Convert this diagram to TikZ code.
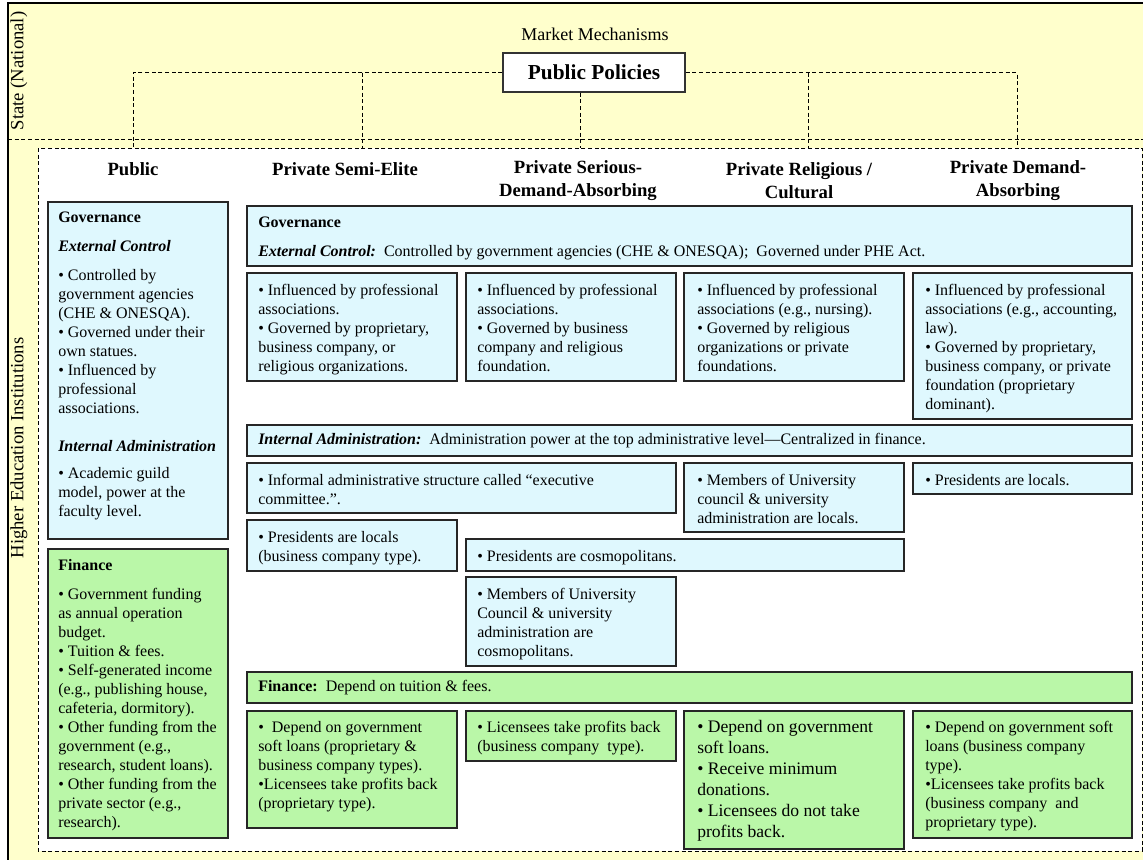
\documentclass[tikz,border=0pt]{standalone}
\usepackage{fontspec}
\setmainfont{Liberation Serif}
\usepackage{xcolor}
\definecolor{stateyellow}{RGB}{255,255,204}
\definecolor{govblue}{RGB}{223,248,254}
\definecolor{fingreen}{RGB}{186,247,168}

\begin{document}
\begin{tikzpicture}[x=0.75pt, y=-0.75pt,
  conn/.style={dash pattern=on 3pt off 2pt, line width=0.7pt},
  blubox/.style={draw=black!85, fill=govblue, line width=1pt},
  grnbox/.style={draw=black!85, fill=fingreen, line width=1pt},
  txt/.style={anchor=north west, inner sep=0pt, align=left, font=\fontsize{12}{14.25}\selectfont},
  bigtxt/.style={txt, font=\fontsize{13.2}{15.75}\selectfont},
  colhead/.style={align=center, inner sep=0pt, font=\fontsize{14}{17.25}\selectfont\bfseries},
  sidelabel/.style={rotate=90, inner sep=0pt, font=\fontsize{14}{16}\selectfont}]
\useasboundingbox (0,0) rectangle (1143,860);

% Background: state level and institutions frame
\fill[stateyellow] (8,3) rectangle (1143,860);
\draw[line width=0.8pt] (8,860) -- (8,3) -- (1143,3);
\fill[white] (38,148) rectangle (1142,851);
\draw[conn] (8,139) -- (1143,139);
\draw[conn] (38,148) rectangle (1142,851);

% Side labels
\node[sidelabel] (state) at (19,71) {State (National)};
\node[sidelabel] (hei) at (19,448) {Higher Education Institutions};

% Public policies
\node[font=\fontsize{13.5}{16}\selectfont] (mm) at (595,34) {Market Mechanisms};
\node[draw=black!80, fill=white, line width=1pt, minimum width=136.5pt, minimum height=29.25pt,
  font=\fontsize{16}{19}\selectfont\bfseries] (pp) at (594,72.5) {Public Policies};

\coordinate (tpub) at (133,148);
\coordinate (tsemi) at (362,148);
\coordinate (tser) at (580,148);
\coordinate (trel) at (808,148);
\coordinate (tdem) at (1017,148);

\draw[conn] (pp.west) -| (tpub);
\draw[conn] (tsemi |- pp.west) -- (tsemi);
\draw[conn] (pp.east) -| (tdem);
\draw[conn] (trel |- pp.east) -- (trel);
\draw[conn] (tser |- pp.south) -- (tser);

% Column headers
\node[colhead] (hpub) at (133,169) {Public};
\node[colhead] (hsemi) at (345,169) {Private Semi-Elite};
\node[colhead] (hser) at (578,180.5) {Private Serious-\\Demand-Absorbing};
\node[colhead] (hrel) at (799,180.5) {Private Religious /\\Cultural};
\node[colhead] (hdem) at (1018,180.5) {Private Demand-\\Absorbing};

% Public column
\draw[blubox] (48,202) rectangle (228,539);
\node[txt] (pubgov) at (58,209) {\strut\textbf{Governance}\\[7.5pt]
  \textbf{\textit{External Control}}\\[7.5pt]
  • Controlled by\\government agencies\\(CHE \& ONESQA).\\• Governed under their\\own statues.\\
  • Influenced by\\professional\\associations.\\[14.25pt]
  \textbf{\textit{Internal Administration}}\\[6pt]
  • Academic guild\\model, power at the\\faculty level.};

\draw[grnbox] (48,549) rectangle (228,838);
\node[txt] (pubfin) at (58,557) {\strut\textbf{Finance}\\[7.5pt]
  • Government funding\\as annual operation\\budget.\\• Tuition \& fees.\\
  • Self-generated income\\(e.g., publishing house,\\cafeteria, dormitory).\\
  • Other funding from the\\government (e.g.,\\research, student loans).\\
  • Other funding from the\\private sector (e.g.,\\research).};

% Private governance
\draw[blubox] (247,206) rectangle (1132,266);
\node[txt] (prigov) at (258,214) {\strut\textbf{Governance}\\[7.5pt]
  \textbf{\textit{External Control:}}\ \ Controlled by government agencies (CHE \& ONESQA);\ \ Governed under PHE Act.};

\draw[blubox] (247,273) rectangle (457,381);
\node[txt] (semigov) at (258,282) {\strut• Influenced by professional\\associations.\\
  • Governed by proprietary,\\business company, or\\religious organizations.};
\draw[blubox] (466,273) rectangle (676,381);
\node[txt] (sergov) at (477,282) {\strut• Influenced by professional\\associations.\\
  • Governed by business\\company and religious\\foundation.};
\draw[blubox] (684,273) rectangle (904,381);
\node[txt] (relgov) at (697,282) {\strut• Influenced by professional\\associations (e.g., nursing).\\
  • Governed by religious\\organizations or private\\foundations.};
\draw[blubox] (913,273) rectangle (1132,419);
\node[txt] (demgov) at (925,282) {\strut• Influenced by professional\\associations (e.g., accounting,\\law).\\
  • Governed by proprietary,\\business company, or private\\foundation (proprietary\\dominant).};

% Internal administration
\draw[blubox] (247,425) rectangle (1132,456);
\node[txt, anchor=west] (priadm) at (258,441) {\textbf{\textit{Internal Administration:}}\ \ Administration power at the top administrative level—Centralized in finance.};

\draw[blubox] (247,463) rectangle (676,513);
\node[txt] (infadm) at (258,472) {\strut• Informal administrative structure called “executive\\committee.”.};
\draw[blubox] (684,463) rectangle (904,532);
\node[txt] (reladm) at (697,472) {\strut• Members of University\\council \& university\\administration are locals.};
\draw[blubox] (913,463) rectangle (1132,494);
\node[txt] (demadm) at (925,472) {\strut• Presidents are locals.};
\draw[blubox] (247,520) rectangle (457,571);
\node[txt] (semiadm) at (258,529) {\strut• Presidents are locals\\(business company type).};
\draw[blubox] (466,539) rectangle (904,571);
\node[txt] (cosadm) at (477,548) {\strut• Presidents are cosmopolitans.};
\draw[blubox] (466,577) rectangle (676,666);
\node[txt] (seradm) at (477,586) {\strut• Members of University\\Council \& university\\administration are\\cosmopolitans.};

% Finance
\draw[grnbox] (247,672) rectangle (1132,703);
\node[txt, anchor=west] (prifin) at (258,688) {\textbf{Finance:}\ \ Depend on tuition \& fees.};

\draw[grnbox] (247,711) rectangle (457,828);
\node[txt] (semifin) at (258,719) {\strut•\ \ Depend on government\\soft loans (proprietary \&\\business company types).\\
  •Licensees take profits back\\(proprietary type).};
\draw[grnbox] (466,711) rectangle (676,761);
\node[txt] (serfin) at (477,719) {\strut• Licensees take profits back\\(business company\ \ type).};
\draw[grnbox] (684,711) rectangle (904,849);
\node[bigtxt] (relfin) at (697,718) {\strut• Depend on government\\soft loans.\\• Receive minimum\\donations.\\
  • Licensees do not take\\profits back.};
\draw[grnbox] (913,711) rectangle (1132,838);
\node[txt] (demfin) at (925,719) {\strut• Depend on government soft\\loans (business company\\type).\\
  •Licensees take profits back\\(business company\ \ and\\proprietary type).};
\end{tikzpicture}
\end{document}
